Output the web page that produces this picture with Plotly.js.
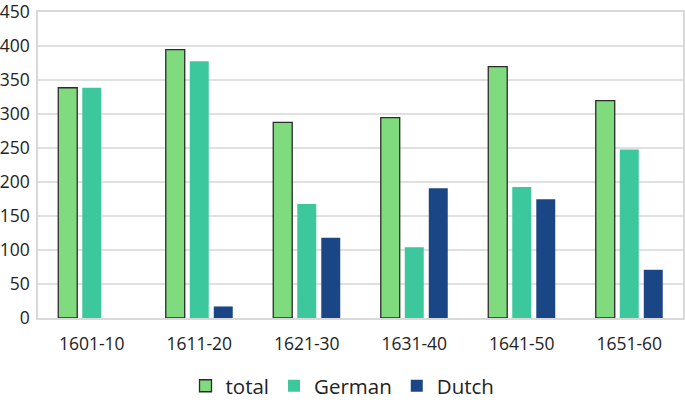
<!DOCTYPE html>
<html lang="en">
<head>
    <meta charset="UTF-8">
    <title>Chart</title>
    <script src="https://cdn.plot.ly/plotly-3.0.1.min.js"></script>
    <style>
        body { margin: 0; }
        #chart { width: 685px; height: 402px; }
    </style>
</head>
<body>
<div id="chart"></div>
<script>
    // decades on the x axis
    let periods = ['1601-10', '1611-20', '1621-30', '1631-40', '1641-50', '1651-60'];
    let totalVals = [339, 395, 288, 295, 370, 320];
    let germanVals = [339, 378, 168, 104, 193, 248];
    let dutchVals = [0, 17, 118, 191, 175, 71];
    let yTicks = [0, 50, 100, 150, 200, 250, 300, 350, 400, 450];

    let data = [
        {
            x: periods, y: totalVals, name: 'total', type: 'bar',
            marker: {color: '#7fdb7e', line: {color: '#2b2b2b', width: 1.3}}
        },
        {
            x: periods, y: germanVals, name: 'German', type: 'bar',
            marker: {color: '#3cc79c'}
        },
        {
            x: periods, y: dutchVals, name: 'Dutch', type: 'bar',
            marker: {color: '#1b4686'}
        }
    ];

    let layout = {
        width: 685,
        height: 402,
        margin: {l: 38, r: 2, t: 12, b: 84, autoexpand: false},
        font: {family: 'Open Sans, sans-serif', color: '#222222', size: 17.5},
        barmode: 'group',
        bargap: 0.33,
        bargroupgap: 0.21,
        paper_bgcolor: '#ffffff',
        plot_bgcolor: '#ffffff',
        showlegend: true,
        legend: {
            orientation: 'h', xref: 'container', yref: 'container',
            x: 0.5, xanchor: 'center', y: 0.04, yanchor: 'middle',
            font: {size: 20.5}, itemwidth: 30, traceorder: 'normal'
        },
        xaxis: {
            type: 'category',
            showline: true, linecolor: '#d9d9d9', linewidth: 1.5, mirror: true,
            ticks: '', ticklabelstandoff: 9, tickfont: {size: 17.5}
        },
        yaxis: {
            range: [0, 450.5], tickvals: yTicks, showgrid: true, gridcolor: '#e0e0e0', gridwidth: 1.5,
            showline: true, linecolor: '#d9d9d9', linewidth: 1.5, mirror: true,
            zeroline: false, ticks: '', ticklabelstandoff: 3, ticklabeloverflow: 'allow',
            tickfont: {size: 17.5}
        }
    };

    Plotly.newPlot('chart', data, layout, {displayModeBar: false});
</script>
</body>
</html>
